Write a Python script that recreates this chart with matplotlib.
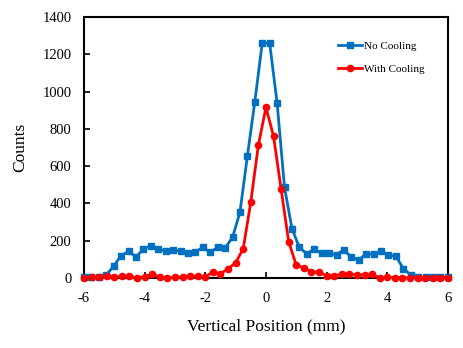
import numpy as np
import matplotlib
matplotlib.use("Agg")
import matplotlib.pyplot as plt

plt.rcParams['font.family'] = ['Liberation Serif', 'DejaVu Serif']
plt.rcParams['axes.unicode_minus'] = False

# No Cooling: 50 samples spread evenly over -6..6 mm
no_cool_x = np.linspace(-6, 6, 50)
no_cool_counts = [3, 3, 5, 16, 65, 120, 143, 113, 155, 174,
                  155, 146, 148, 145, 132, 140, 164, 138, 165, 161,
                  218, 353, 654, 945, 1260, 1260, 940, 486, 265, 164,
                  130, 155, 132, 132, 126, 152, 111, 97, 131, 128,
                  144, 124, 116, 51, 16, 4, 4, 4, 4, 4]

# With Cooling: 0.25 mm steps
with_cool_x = np.arange(-6, 6.01, 0.25)
with_cool_counts = [2, 5, 3, 9, 3, 9, 9, 0, 7, 21,
                    5, 2, 3, 7, 9, 11, 7, 32, 23, 50,
                    82, 157, 407, 713, 915, 761, 477, 195, 68, 56,
                    32, 33, 12, 12, 21, 21, 18, 17, 19, 2,
                    3, 2, 1, 2, 2, 2, 2, 2, 2]

fig = plt.figure(figsize=(4.63, 3.48), dpi=100)
ax = fig.add_axes([0.1814, 0.2011, 0.786, 0.75])

ax.plot(no_cool_x, no_cool_counts, color='#0070C0', marker='s', markersize=4.5,
        linewidth=2, label='No Cooling', clip_on=False, zorder=3)
ax.plot(with_cool_x, with_cool_counts, color='#FF0000', marker='o', markersize=4.5,
        linewidth=2, label='With Cooling', clip_on=False, zorder=4)

ax.set_xlim(-6, 6)
ax.set_ylim(0, 1400)
ax.set_xticks(range(-6, 7, 2))
ax.set_yticks(range(0, 1401, 200))
ax.tick_params(direction='in', length=4, width=1.2, labelsize=10.5)
ax.tick_params(axis='x', pad=10)
ax.tick_params(axis='y', pad=9)

for spine in ax.spines.values():
    spine.set_linewidth(1.5)

ax.set_xlabel('Vertical Position (mm)', fontsize=12.5, labelpad=10)
ax.set_ylabel('Counts', fontsize=12.5, labelpad=10)

ax.legend(loc='upper left', bbox_to_anchor=(0.67, 0.945), frameon=False,
          fontsize=8, handlelength=2.2, handletextpad=0.2, labelspacing=1.15)

fig.savefig('out.png', dpi=100)
